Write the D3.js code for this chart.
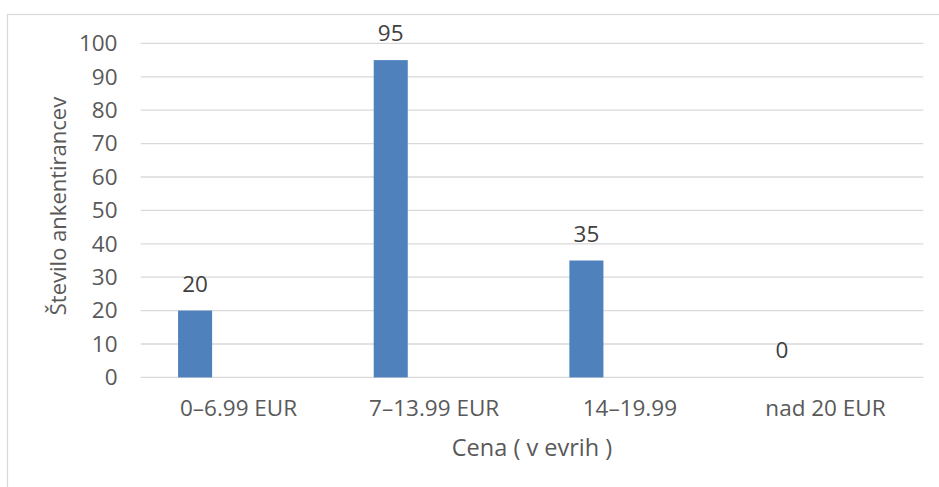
<!DOCTYPE html>
<html>
<head>
<meta charset="utf-8">
<script src="https://cdn.jsdelivr.net/npm/d3@7"></script>
<style>
  body { margin: 0; background: #fff; }
  text { font-family: "Open Sans", sans-serif; fill: #595959; }
</style>
</head>
<body>
<div id="chart"></div>
<script>
(function(){
    var width = 939;
    var height = 487;

    // data
    var categories = ["0–6.99 EUR", "7–13.99 EUR", "14–19.99", "nad 20 EUR"];
    var values = [20, 95, 35, 0];
    var yTicks = [0, 10, 20, 30, 40, 50, 60, 70, 80, 90, 100];
    var xTitle = "Cena ( v evrih )";
    var yTitle = "Število ankentirancev";

    var plot = { left: 140.7, right: 923.3, top: 43.4, bottom: 377.4 };
    var fontSize = "22.5px";

    var svg = d3.select("#chart")
        .append("svg")
        .attr("width", width)
        .attr("height", height);

    // chart frame
    svg.append("rect")
        .attr("x", 7.5)
        .attr("y", 14.5)
        .attr("width", 1000)
        .attr("height", 600)
        .attr("fill", "none")
        .attr("stroke", "#d9d9d9")
        .attr("stroke-width", 1.2);

    var x = d3.scaleBand()
        .domain(categories)
        .range([plot.left, plot.right]);

    var y = d3.scaleLinear()
        .domain([0, 100])
        .range([plot.bottom, plot.top]);

    // gridlines
    svg.append("g")
        .selectAll("line")
        .data(yTicks)
        .enter().append("line")
        .attr("x1", plot.left)
        .attr("x2", plot.right)
        .attr("y1", function(d){ return y(d) })
        .attr("y2", function(d){ return y(d) })
        .attr("stroke", "#d9d9d9")
        .attr("stroke-width", 1.3);

    // y axis labels
    var yAxis = d3.axisLeft(y).tickValues(yTicks).tickSize(0).tickPadding(0);
    var gy = svg.append("g")
        .attr("transform", "translate(117.5,0)")
        .call(yAxis);
    gy.select(".domain").remove();
    gy.selectAll("text")
        .style("font-size", fontSize)
        .attr("fill", "#595959")
        .attr("font-family", "Open Sans, sans-serif");

    // x axis labels
    var xAxis = d3.axisBottom(x).tickSize(0).tickPadding(0);
    var gx = svg.append("g")
        .attr("transform", "translate(0," + 400 + ")")
        .call(xAxis);
    gx.select(".domain").remove();
    gx.selectAll("text")
        .attr("dy", "0.71em")
        .style("font-size", fontSize)
        .attr("fill", "#595959")
        .attr("font-family", "Open Sans, sans-serif");

    // bars sit left of band centre (clustered layout)
    var barOffset = 0.191;
    var barFrac = 0.174;

    svg.append("g")
        .selectAll("rect")
        .data(values)
        .enter().append("rect")
        .attr("x", function(d, i){ return x(categories[i]) + x.bandwidth() * barOffset })
        .attr("width", x.bandwidth() * barFrac)
        .attr("y", function(d){ return y(d) })
        .attr("height", function(d){ return y(0) - y(d) })
        .attr("fill", "#4f81bd");

    // data labels
    svg.append("g")
        .selectAll("text")
        .data(values)
        .enter().append("text")
        .attr("x", function(d, i){ return x(categories[i]) + x.bandwidth() * (barOffset + barFrac / 2) })
        .attr("y", function(d){ return y(d) - 19 })
        .attr("text-anchor", "middle")
        .style("font-size", fontSize)
        .style("fill", "#404040")
        .text(function(d){ return d });

    // axis titles
    svg.append("text")
        .attr("x", (plot.left + plot.right) / 2)
        .attr("y", 456)
        .attr("text-anchor", "middle")
        .style("font-size", "23.5px")
        .text(xTitle);

    svg.append("text")
        .attr("transform", "translate(66,206) rotate(-90)")
        .attr("text-anchor", "middle")
        .style("font-size", "22px")
        .text(yTitle);
})();
</script>
</body>
</html>
